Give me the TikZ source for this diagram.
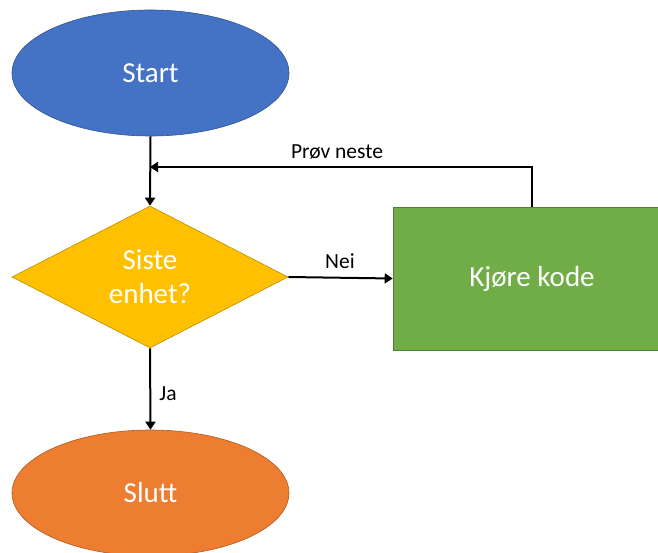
\documentclass[tikz,border=0pt]{standalone}
\usepackage{fontspec}
\setmainfont{Carlito}
\usetikzlibrary{shapes.geometric,arrows.meta}
\definecolor{sblue}{HTML}{4472C4}
\definecolor{sblueD}{HTML}{2F528F}
\definecolor{sgold}{HTML}{FFC000}
\definecolor{sgoldD}{HTML}{BC8C00}
\definecolor{sgreen}{HTML}{70AD47}
\definecolor{sgreenD}{HTML}{507E32}
\definecolor{sorange}{HTML}{ED7D31}
\definecolor{sorangeD}{HTML}{AE5A21}
\tikzset{
  shapetext/.style={text=white,font=\fontsize{29}{34}\selectfont,inner sep=0pt,line width=0.6pt},
  terminal/.style={shapetext,ellipse,minimum width=277pt,minimum height=126pt},
  decision/.style={shapetext,diamond,minimum width=276pt,minimum height=142pt,align=center,fill=sgold,draw=sgoldD},
  process/.style={shapetext,rectangle,minimum width=278pt,minimum height=143pt,fill=sgreen,draw=sgreenD},
  conn/.style={line width=2pt,-{Triangle[width=10pt,length=8pt]}},
  lbl/.style={font=\fontsize{21.5}{25}\selectfont,inner sep=0pt}
}
\begin{document}
\begin{tikzpicture}[x=1pt,y=-1pt]
\useasboundingbox (0,0) rectangle (658,553);
\clip (0,0) rectangle (658,553);
\node[terminal,fill=sblue,draw=sblueD] (start) at (150.5,73) {Start};
\node[decision] (dec) at (150,277) {Siste\\enhet?};
\node[process] (kode) at (532,278.5) {Kjøre kode};
\node[terminal,fill=sorange,draw=sorangeD] (slutt) at (150.5,493) {Slutt};
\coordinate (up) at (532,167);
\coordinate (join) at (150,167);
\draw[conn] (start.south) -- (dec.north);
\draw[conn] (kode.north) -- (up) -- (join);
\draw[conn] (dec.east) -- (kode.west);
\draw[conn] (dec.south) -- (slutt.north);
\node[lbl] (lprov) at (337,152) {Prøv neste};
\node[lbl] (lnei) at (340,261) {Nei};
\node[lbl] (lja) at (168,394) {Ja};
\end{tikzpicture}
\end{document}
